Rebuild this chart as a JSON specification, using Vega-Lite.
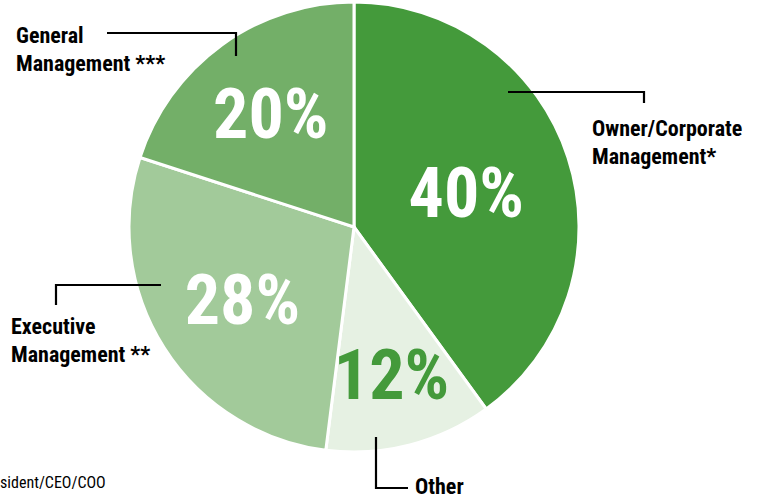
{
  "$schema": "https://vega.github.io/schema/vega-lite/v6.json",
  "autosize": "none",
  "width": 708,
  "height": 454,
  "padding": {"left": 0, "top": 0, "right": 50, "bottom": 45},
  "background": "white",
  "config": {"view": {"stroke": null}},
  "datasets": {
    "slices": [
      {"category": "Owner/Corporate Management*", "value": 40, "order": 1, "pct": "40%"},
      {"category": "Other", "value": 12, "order": 2, "pct": "12%"},
      {"category": "Executive Management **", "value": 28, "order": 3, "pct": "28%"},
      {"category": "General Management ***", "value": 20, "order": 4, "pct": "20%"}
    ],
    "leaders": [
      {"label": "General", "step": 1, "x": -247, "y": 194},
      {"label": "General", "step": 2, "x": -118, "y": 194},
      {"label": "General", "step": 3, "x": -118, "y": 171},
      {"label": "Owner", "step": 1, "x": 154, "y": 135},
      {"label": "Owner", "step": 2, "x": 290, "y": 135},
      {"label": "Owner", "step": 3, "x": 290, "y": 124},
      {"label": "Executive", "step": 1, "x": -193, "y": -58},
      {"label": "Executive", "step": 2, "x": -298, "y": -58},
      {"label": "Executive", "step": 3, "x": -298, "y": -78},
      {"label": "Other", "step": 1, "x": 22, "y": -210},
      {"label": "Other", "step": 2, "x": 22, "y": -261},
      {"label": "Other", "step": 3, "x": 54, "y": -261}
    ],
    "labels": [
      {"text": "General\nManagement ***", "x": -338, "y": 184},
      {"text": "Owner/Corporate\nManagement*", "x": 238, "y": 91},
      {"text": "Executive\nManagement **", "x": -343, "y": -107},
      {"text": "Other", "x": 61, "y": -267}
    ],
    "notes": [
      {"text": "sident/CEO/COO", "x": -354, "y": -261}
    ]
  },
  "layer": [
    {
      "data": {"name": "slices"},
      "mark": {"type": "arc", "outerRadius": 225, "stroke": "white", "strokeWidth": 3},
      "encoding": {
        "theta": {"field": "value", "type": "quantitative", "stack": true},
        "order": {"field": "order", "type": "quantitative"},
        "color": {
          "field": "category", "type": "nominal", "legend": null,
          "scale": {
            "domain": ["Owner/Corporate Management*", "Other", "Executive Management **", "General Management ***"],
            "range": ["#449a3b", "#e6f1e3", "#a2ca9a", "#73af68"]
          }
        }
      }
    },
    {
      "data": {"name": "slices"},
      "mark": {"type": "text", "font": "Roboto Condensed, Roboto, sans-serif", "fontWeight": "bold", "fontSize": 70, "align": "center", "baseline": "middle", "dy": 5},
      "encoding": {
        "theta": {"field": "value", "type": "quantitative", "stack": true},
        "order": {"field": "order", "type": "quantitative"},
        "radius": {"field": "value", "type": "quantitative", "scale": {"type": "linear", "zero": false, "domain": [12, 40], "range": [151, 118]}},
        "text": {"field": "pct", "type": "nominal"},
        "color": {"condition": {"test": "datum.category === 'Other'", "value": "#449a3b"}, "value": "white"}
      }
    },
    {
      "data": {"name": "leaders"},
      "mark": {"type": "line", "color": "black", "strokeWidth": 2.2, "interpolate": "linear"},
      "encoding": {
        "x": {"field": "x", "type": "quantitative", "scale": {"domain": [-354, 354]}, "axis": null},
        "y": {"field": "y", "type": "quantitative", "scale": {"domain": [-227, 227]}, "axis": null},
        "detail": {"field": "label", "type": "nominal"},
        "order": {"field": "step", "type": "quantitative"}
      }
    },
    {
      "data": {"name": "labels"},
      "mark": {"type": "text", "font": "Roboto Condensed, Roboto, sans-serif", "fontWeight": "bold", "fontSize": 22, "align": "left", "baseline": "alphabetic", "lineBreak": "\n", "lineHeight": 28, "color": "black"},
      "encoding": {
        "x": {"field": "x", "type": "quantitative", "scale": {"domain": [-354, 354]}, "axis": null},
        "y": {"field": "y", "type": "quantitative", "scale": {"domain": [-227, 227]}, "axis": null},
        "text": {"field": "text", "type": "nominal"}
      }
    },
    {
      "data": {"name": "notes"},
      "mark": {"type": "text", "font": "Roboto Condensed, Roboto, sans-serif", "fontSize": 16, "align": "left", "baseline": "alphabetic", "color": "black"},
      "encoding": {
        "x": {"field": "x", "type": "quantitative", "scale": {"domain": [-354, 354]}, "axis": null},
        "y": {"field": "y", "type": "quantitative", "scale": {"domain": [-227, 227]}, "axis": null},
        "text": {"field": "text", "type": "nominal"}
      }
    }
  ]
}
